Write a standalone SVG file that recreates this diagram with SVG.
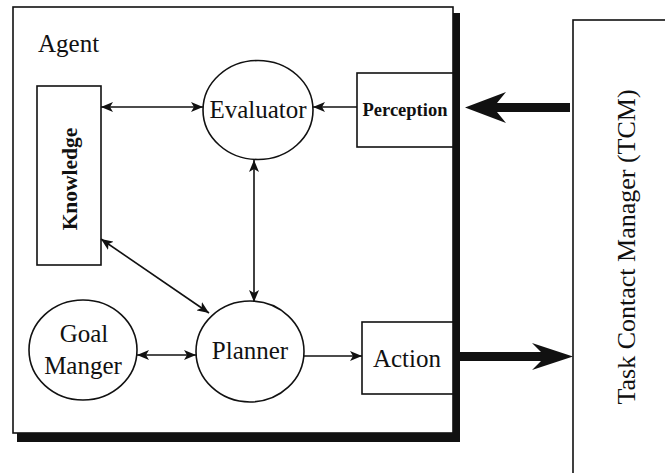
<svg xmlns="http://www.w3.org/2000/svg" width="665" height="473" viewBox="0 0 665 473">
  <defs>
    <style>
      .box { fill: #ffffff; stroke: #111; stroke-width: 1.6; }
      .node { fill: #ffffff; stroke: #111; stroke-width: 1.6; }
      .lbl { font-family: 'Liberation Serif', 'Times New Roman', Times, serif; fill: #111; }
      .big { font-size: 25px; }
      .bold { font-weight: bold; }
      .link { stroke: #111; stroke-width: 1.6; fill: none; }
      .fat { fill: #111; stroke: none; }
    </style>
    <marker id="tip" viewBox="0 0 12 10" refX="12" refY="5" markerWidth="12" markerHeight="10" markerUnits="userSpaceOnUse" orient="auto-start-reverse">
      <path d="M0,0 L12,5 L0,10 L3,5 Z" fill="#111"/>
    </marker>
  </defs>

  <rect width="665" height="473" fill="#ffffff"/>

  <!-- Agent container with drop shadow -->
  <g id="agent">
    <rect class="box" x="13" y="7" width="440" height="426"/>
    <path class="fat" d="M453,13 H460 V442 H17 V433 H453 Z"/>
    <text class="lbl big" x="38" y="52">Agent</text>
  </g>

  <!-- Task Contact Manager -->
  <g id="tcm">
    <rect class="box" x="573" y="20" width="120" height="480"/>
    <text class="lbl" style="font-size:26px" transform="translate(635,247) rotate(-90)" text-anchor="middle">Task Contact Manager (TCM)</text>
  </g>

  <g id="knowledge">
    <rect class="box" x="37" y="86" width="64" height="179"/>
    <text class="lbl bold" style="font-size:21.5px" transform="translate(77,179) rotate(-90)" text-anchor="middle">Knowledge</text>
  </g>

  <g id="perception">
    <rect class="box" x="357" y="73" width="96" height="74"/>
    <text class="lbl bold" style="font-size:18.5px" x="405" y="116" text-anchor="middle">Perception</text>
  </g>

  <g id="action">
    <rect class="box" x="362" y="322" width="91" height="72"/>
    <text class="lbl big" x="407" y="367" text-anchor="middle">Action</text>
  </g>

  <g id="evaluator">
    <ellipse class="node" cx="258" cy="110" rx="55" ry="49.5"/>
    <text class="lbl big" x="258" y="118" text-anchor="middle">Evaluator</text>
  </g>

  <g id="planner">
    <ellipse class="node" cx="250" cy="351.5" rx="54" ry="50.5"/>
    <text class="lbl big" x="250" y="359" text-anchor="middle">Planner</text>
  </g>

  <g id="goal-manager">
    <ellipse class="node" cx="83" cy="350" rx="54" ry="50"/>
    <text class="lbl big" x="84" y="342" text-anchor="middle">Goal</text>
    <text class="lbl big" x="83" y="374" text-anchor="middle">Manger</text>
  </g>

  <!-- Connectors -->
  <g id="connectors">
    <line class="link" x1="101" y1="107" x2="203" y2="107" marker-start="url(#tip)" marker-end="url(#tip)"/>
    <line class="link" x1="357" y1="107" x2="313" y2="107" marker-end="url(#tip)"/>
    <line class="link" x1="254" y1="160" x2="254" y2="302" marker-start="url(#tip)" marker-end="url(#tip)"/>
    <line class="link" x1="101" y1="239" x2="209" y2="313" marker-start="url(#tip)" marker-end="url(#tip)"/>
    <line class="link" x1="137" y1="355" x2="196" y2="355" marker-start="url(#tip)" marker-end="url(#tip)"/>
    <line class="link" x1="304" y1="356" x2="362" y2="356" marker-end="url(#tip)"/>
    <!-- heavy arrows between the agent and the TCM -->
    <path class="fat" d="M570,103 V112 H497 L506,123 L465,107.5 L506,92 L497,103 Z"/>
    <path class="fat" d="M460,352 H541 L532,343 L573,356.5 L532,370 L541,361 H460 Z"/>
  </g>
</svg>
